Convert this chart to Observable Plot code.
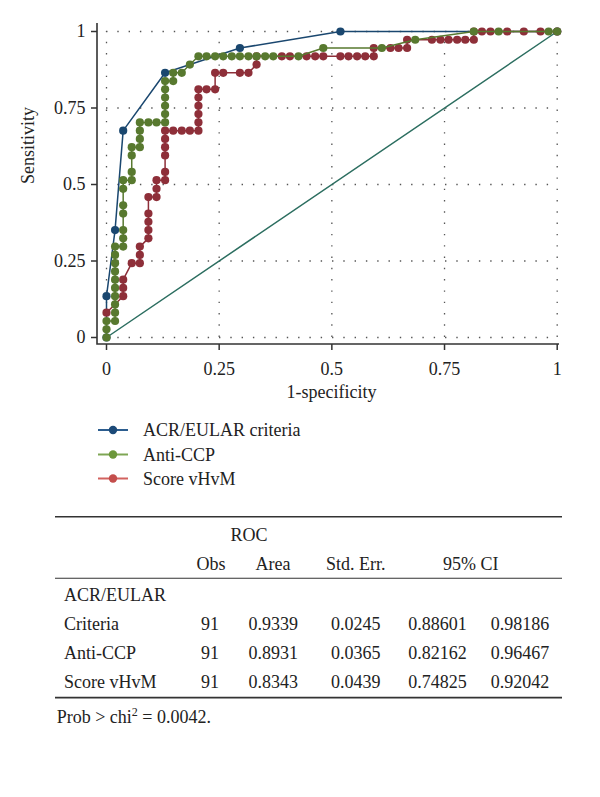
<!DOCTYPE html>
<html><head><meta charset="utf-8">
<script src="https://cdn.jsdelivr.net/npm/d3@7"></script>
<script src="https://cdn.jsdelivr.net/npm/@observablehq/plot@0.6"></script>
<style>
body{margin:0;background:#fff;font-family:"Liberation Serif","Times New Roman",serif;}
#wrap{width:600px;height:797px;background:#fff;}
#wrap svg{display:block;}
</style></head><body><div id="wrap"></div>
<script>
// ---- data ----
const xTicks = [0, 0.25, 0.5, 0.75, 1];
const xTickLabels = ["0", "0.25", "0.5", "0.75", "1"];
const yTicks = [0, 0.25, 0.5, 0.75, 1];
const yTickLabels = ["0", "0.25", "0.5", "0.75", "1"];
const xTitle = "1-specificity";
const yTitle = "Sensitivity";

const refX = [0, 1];
const refY = [0, 1];

// ACR/EULAR criteria
const acrX = [0, 0, 0.019, 0.037, 0.130, 0.296, 0.519, 1];
const acrY = [0, 0.135, 0.351, 0.676, 0.865, 0.946, 1, 1];

// Anti-CCP
const ccpX = [
  0, 0, 0, 0.019, 0.019, 0.019, 0.019, 0.019, 0.019, 0.019,
  0.019, 0.019, 0.019, 0.037, 0.037, 0.037, 0.037, 0.037, 0.037, 0.037,
  0.056, 0.056, 0.056, 0.056, 0.074, 0.074, 0.074, 0.074, 0.093, 0.111,
  0.130, 0.130, 0.130, 0.130, 0.130, 0.130, 0.148, 0.148, 0.167, 0.185,
  0.204, 0.222, 0.241, 0.259, 0.278, 0.296, 0.315, 0.333, 0.352, 0.370,
  0.426, 0.481, 0.611, 0.685, 0.815, 0.870, 0.981, 1];
const ccpY = [
  0, 0.027, 0.054, 0.054, 0.081, 0.108, 0.135, 0.162, 0.189, 0.216,
  0.243, 0.270, 0.297, 0.297, 0.324, 0.351, 0.405, 0.432, 0.486, 0.514,
  0.514, 0.541, 0.595, 0.622, 0.622, 0.649, 0.676, 0.703, 0.703, 0.703,
  0.703, 0.730, 0.757, 0.784, 0.811, 0.838, 0.838, 0.865, 0.865, 0.892,
  0.919, 0.919, 0.919, 0.919, 0.919, 0.919, 0.919, 0.919, 0.919, 0.919,
  0.919, 0.946, 0.946, 0.973, 1, 1, 1, 1];

// Score vHvM
const vhvmX = [
  0, 0.037, 0.037, 0.037, 0.056, 0.074, 0.074, 0.074, 0.093, 0.093,
  0.093, 0.093, 0.093, 0.111, 0.111, 0.111, 0.130, 0.130, 0.130, 0.130,
  0.130, 0.130, 0.148, 0.167, 0.185, 0.204, 0.204, 0.204, 0.204, 0.204,
  0.204, 0.222, 0.241, 0.241, 0.259, 0.296, 0.315, 0.333, 0.333, 0.389,
  0.407, 0.444, 0.463, 0.481, 0.519, 0.537, 0.556, 0.574, 0.593, 0.593,
  0.630, 0.648, 0.667, 0.667, 0.722, 0.741, 0.759, 0.778, 0.796, 0.815,
  0.815, 0.833, 0.852, 0.889, 0.926, 0.963, 1];
const vhvmY = [
  0.081, 0.135, 0.162, 0.189, 0.243, 0.243, 0.270, 0.297, 0.324, 0.351,
  0.378, 0.405, 0.459, 0.459, 0.486, 0.514, 0.514, 0.541, 0.595, 0.622,
  0.649, 0.676, 0.676, 0.676, 0.676, 0.676, 0.703, 0.730, 0.757, 0.784,
  0.811, 0.811, 0.811, 0.865, 0.865, 0.865, 0.865, 0.892, 0.919, 0.919,
  0.919, 0.919, 0.919, 0.919, 0.919, 0.919, 0.919, 0.919, 0.919, 0.946,
  0.946, 0.946, 0.946, 0.973, 0.973, 0.973, 0.973, 0.973, 0.973, 0.973,
  1, 1, 1, 1, 1, 1, 1];

const seriesNames = ["ACR/EULAR criteria", "Anti-CCP", "Score vHvM"];

// table
const tableTitle = "ROC";
const tableHeads = ["Obs", "Area", "Std. Err.", "95% CI"];
const tableGroup = "ACR/EULAR";
const rowNames = ["Criteria", "Anti-CCP", "Score vHvM"];
const rowObs = ["91", "91", "91"];
const rowArea = ["0.9339", "0.8931", "0.8343"];
const rowSE = ["0.0245", "0.0365", "0.0439"];
const rowLo = ["0.88601", "0.82162", "0.74825"];
const rowHi = ["0.98186", "0.96467", "0.92042"];
const footText = "Prob > chi";
const footSup = "2";
const footTail = " = 0.0042.";

// ---- styles ----
const colors = ["#1a476f", "#58792f", "#8e2f39"];
const legendDot = ["#1c4a78", "#6c973b", "#c44e4c"];
const legendLine = ["#2c5d8f", "#7ea654", "#d2625f"];
const refColor = "#2c6e60";
const FONT = "Liberation Serif, Times New Roman, serif";
const TXT = "#222";

const toRows = (xs, ys) => xs.map((x, i) => ({x, y: ys[i]}));
const sets = [toRows(acrX, acrY), toRows(ccpX, ccpY), toRows(vhvmX, vhvmY)];
const grid = {stroke: "#555", strokeWidth: 1.3, strokeDasharray: "1.4,9.9"};

// L-shaped axis lines along the left and bottom frame edges
const axisLines = (index, scales, values, dims) => {
  const {width, height, marginLeft, marginRight, marginTop, marginBottom} = dims;
  const p = document.createElementNS("http://www.w3.org/2000/svg", "path");
  p.setAttribute("d", `M${marginLeft},${marginTop}V${height - marginBottom}H${width - marginRight}`);
  p.setAttribute("fill", "none");
  p.setAttribute("stroke", "#333");
  p.setAttribute("stroke-width", "1.6");
  return p;
};

const chart = Plot.plot({
  width: 600, height: 410,
  marginLeft: 97, marginRight: 41, marginTop: 23, marginBottom: 66,
  x: {domain: [0, 1], insetLeft: 9, insetRight: 2.3},
  y: {domain: [0, 1], insetTop: 8, insetBottom: 7},
  style: {fontFamily: FONT, fontSize: "18px", color: TXT, background: "#fff"},
  marks: [
    Plot.ruleX(xTicks, {x: d => d, y1: 0, y2: 1, ...grid}),
    Plot.ruleY(yTicks, {y: d => d, x1: 0, x2: 1, ...grid}),
    axisLines,
    Plot.axisX({ticks: xTicks, tickFormat: d => xTickLabels[xTicks.indexOf(d)], tickSize: 6, tickPadding: 12,
      stroke: "#333", strokeWidth: 1.5, label: null, fontSize: 18}),
    Plot.axisY({ticks: yTicks, tickFormat: d => yTickLabels[yTicks.indexOf(d)], tickSize: 6, tickPadding: 6,
      stroke: "#333", strokeWidth: 1.5, label: null, fontSize: 18}),
    Plot.text([xTitle], {text: d => d, frameAnchor: "bottom", dy: 53, dx: 3, fontSize: 18, fill: TXT}),
    Plot.text([yTitle], {text: d => d, frameAnchor: "left", rotate: -90, dx: -69, fontSize: 18, fill: TXT}),
    Plot.line(toRows(refX, refY), {x: "x", y: "y", stroke: refColor, strokeWidth: 1.5}),
    ...[0, 2, 1].flatMap(i => [
      Plot.line(sets[i], {x: "x", y: "y", stroke: colors[i], strokeWidth: 1.5}),
      Plot.dot(sets[i], {x: "x", y: "y", r: 4.1, fill: colors[i], stroke: "none"})
    ])
  ]
});
document.getElementById("wrap").appendChild(chart);

// ---- legend + table (below the chart svg) ----
const top0 = 410;
const svg = d3.create("svg").attr("width", 600).attr("height", 797 - top0)
  .attr("font-family", FONT).attr("font-size", 18).attr("fill", TXT);
const Y = v => v - top0;

const legendYs = [430, 454.5, 478.5];
seriesNames.forEach((name, i) => {
  const g = svg.append("g").attr("transform", `translate(0,${Y(legendYs[i])})`);
  g.append("line").attr("x1", 98).attr("x2", 128).attr("y1", 0).attr("y2", 0)
    .attr("stroke", legendLine[i]).attr("stroke-width", 2);
  g.append("circle").attr("cx", 113).attr("cy", 0).attr("r", 4.2).attr("fill", legendDot[i]);
  g.append("text").attr("x", 143).attr("y", 6).text(name);
});

const rule = (y, w) => svg.append("line").attr("x1", 55).attr("x2", 562).attr("y1", Y(y)).attr("y2", Y(y))
  .attr("stroke", "#333").attr("stroke-width", w);
rule(516.7, 1.5);
rule(578.3, 1.1);
rule(697.7, 1.8);

const ctext = (x, y, s) => svg.append("text").attr("x", x).attr("y", Y(y)).attr("text-anchor", "middle").text(s);
const ltext = (x, y, s) => svg.append("text").attr("x", x).attr("y", Y(y)).text(s);

ctext(249, 540.5, tableTitle);
const headX = [211, 273, 355.8, 470.8];
tableHeads.forEach((h, i) => ctext(headX[i], 570, h));
ltext(64, 600.7, tableGroup);
const rowYs = [630, 659.3, 688.3];
const colX = [210, 273.3, 355.8, 437.4, 520];
rowNames.forEach((n, i) => {
  ltext(64, rowYs[i], n);
  [rowObs, rowArea, rowSE, rowLo, rowHi].forEach((col, j) => ctext(colX[j], rowYs[i], col[i]));
});
const ft = svg.append("text").attr("x", 56.7).attr("y", Y(723.3));
ft.append("tspan").text(footText);
ft.append("tspan").attr("font-size", 12).attr("dy", -7).text(footSup);
ft.append("tspan").attr("dy", 7).text(footTail);

document.getElementById("wrap").appendChild(svg.node());
</script>
</body></html>
